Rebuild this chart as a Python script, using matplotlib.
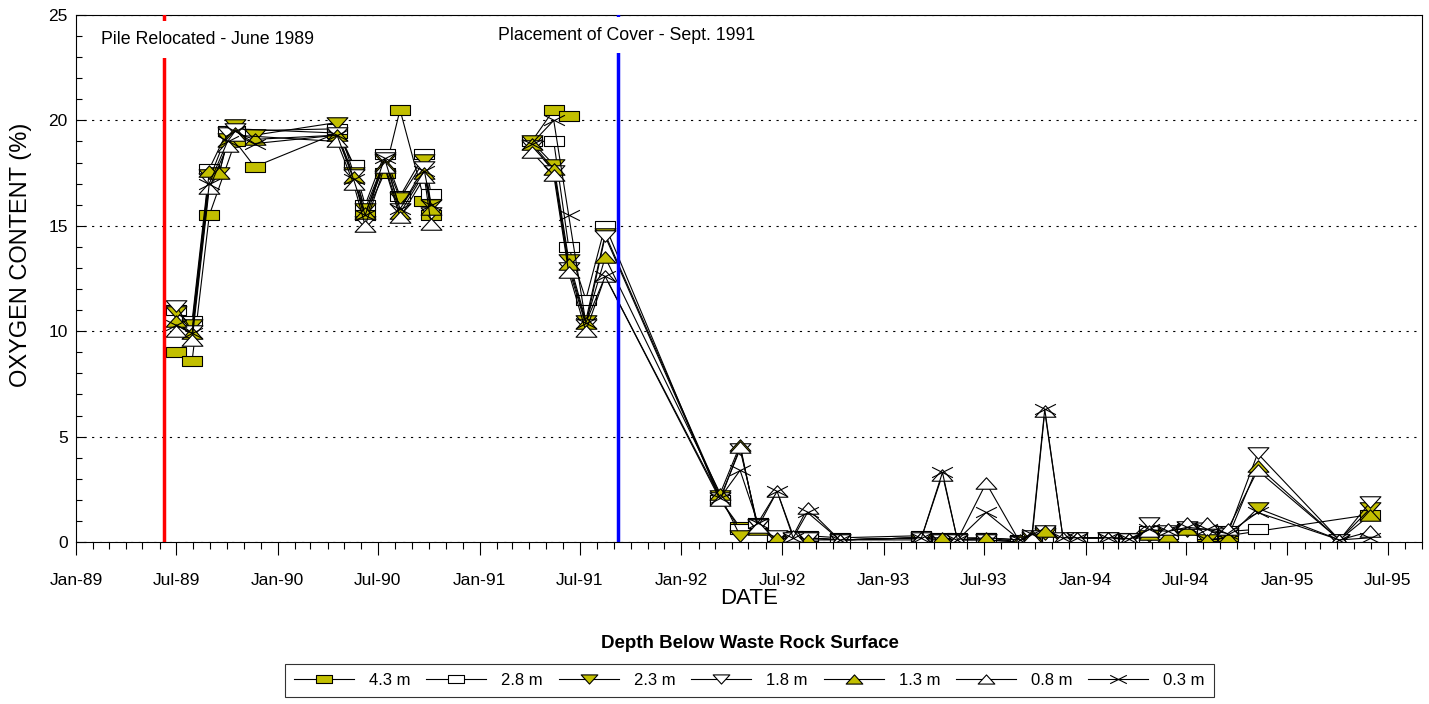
import numpy as np
import pandas as pd
import matplotlib
matplotlib.use("Agg")
import matplotlib.pyplot as plt
import matplotlib.dates as mdates
from matplotlib.path import Path
from matplotlib.lines import Line2D
from matplotlib.ticker import MultipleLocator

plt.rcParams['font.family'] = ['Liberation Sans', 'DejaVu Sans']

# sampling dates (one row per field campaign)
dates = pd.to_datetime([
    "1989-07-01", "1989-07-30", "1989-08-30", "1989-09-17", "1989-10-02",
    "1989-10-16", "1989-11-20", "1990-04-18", "1990-05-18", "1990-06-08",
    "1990-07-13", "1990-08-10", "1990-09-23", "1990-10-05",
    "1991-04-05", "1991-05-15", "1991-06-11", "1991-07-12", "1991-08-16",
    "1992-03-11", "1992-04-16", "1992-05-18", "1992-06-22", "1992-07-21",
    "1992-08-16", "1992-10-13", "1993-03-10", "1993-04-17", "1993-05-14",
    "1993-07-05", "1993-09-04", "1993-09-26", "1993-10-19", "1993-11-21",
    "1993-12-16", "1994-02-11", "1994-03-21", "1994-04-26", "1994-05-30",
    "1994-07-04", "1994-08-08", "1994-09-15", "1994-11-08", "1995-04-05",
    "1995-05-31",
])

nan = np.nan

# oxygen content (%) at each depth below the waste rock surface
o2_43 = [9.0, 8.6, 15.5, nan, nan, 19.0, 17.8, 19.4, 17.9, 15.5,
         17.5, 20.5, 16.2, 15.5,
         19.0, 20.5, 20.2, nan, nan,
         2.0, 0.7, 0.8, 0.3, 0.2, 0.2, 0.1, 0.2, 0.1, 0.1,
         0.2, 0.1, 0.3, 0.5, 0.2, 0.2, 0.2, 0.15, 0.4, 0.4,
         0.6, 0.3, 0.3, nan, nan, 1.3]
o2_28 = [11.0, 10.5, 17.7, nan, 19.5, 19.5, nan, 19.6, 17.9, 16.0,
         18.4, 16.4, 18.4, 16.5,
         19.0, 19.0, 14.0, 11.5, 15.0,
         2.0, 0.6, 0.9, 0.3, 0.3, 0.3, 0.2, 0.3, 0.2, 0.2,
         0.2, 0.0, 0.3, 0.5, 0.2, 0.2, 0.2, 0.2, 0.5, 0.4,
         0.6, 0.4, 0.5, 0.6, nan, nan]
o2_23 = [10.9, 10.3, 17.4, 17.5, 19.1, 19.8, 19.3, 19.9, 17.5, 15.8,
         18.1, 16.3, 18.1, 16.0,
         19.0, 17.9, 13.4, 10.5, 14.6,
         2.2, 0.3, 0.8, 0.2, 0.1, 0.2, 0.1, 0.1, 0.1, 0.1,
         0.1, 0.0, 0.2, 0.4, 0.1, 0.2, 0.2, 0.1, 0.3, 0.4,
         0.5, 0.1, 0.2, 1.6, 0.1, 1.6]
o2_18 = [11.2, 10.0, 17.2, nan, 19.4, 19.6, nan, 19.4, 17.4, 15.2,
         18.2, 15.8, 17.8, 15.6,
         18.8, 17.6, 13.0, 10.3, 14.5,
         2.1, 4.4, 0.8, 0.3, 0.2, 0.2, 0.1, 0.2, 0.1, 0.1,
         0.1, 0.0, 0.3, 0.5, 0.2, 0.2, 0.2, 0.15, 0.9, 0.5,
         0.7, 0.5, 0.4, 4.2, 0.1, 1.9]
o2_13 = [10.5, 9.9, 17.6, 17.5, 19.0, 19.4, 19.1, 19.3, 17.3, 15.6,
         17.9, 15.6, 17.5, 15.8,
         18.9, 17.7, 13.2, 10.4, 13.5,
         2.3, 4.6, 0.6, 0.2, 0.1, 0.1, 0.1, 0.2, 0.2, 0.1,
         0.2, 0.1, 0.3, 0.5, 0.1, 0.2, 0.2, 0.15, 0.4, 0.3,
         0.6, 0.1, 0.2, 3.6, 0.1, 1.3]
o2_08 = [10.0, 9.6, 16.8, nan, 18.8, 19.3, nan, 19.0, 17.0, 15.0,
         17.8, 15.4, 17.3, 15.1,
         18.5, 17.4, 12.8, 10.0, 12.6,
         2.0, 4.5, 0.7, 2.4, 0.3, 1.6, 0.1, 0.2, 3.2, 0.1,
         2.8, 0.0, 0.2, 6.2, 0.2, 0.2, 0.2, 0.15, 0.5, 0.6,
         0.9, 0.9, 0.6, 3.4, 0.1, 0.5]
o2_03 = [10.3, 9.9, 17.0, nan, 19.0, 19.5, 18.9, 19.3, 17.2, 15.5,
         18.2, 15.8, 17.6, 16.0,
         18.9, 20.0, 15.5, 10.4, 12.6,
         2.1, 3.4, 0.9, 2.4, 0.2, 1.4, 0.1, 0.2, 3.3, 0.1,
         1.4, 0.1, 0.4, 6.3, 0.2, 0.2, 0.2, 0.15, 0.6, 0.5,
         0.7, 0.6, 0.4, 1.4, 0.1, 0.2]

depth_labels = ["4.3 m", "2.8 m", "2.3 m", "1.8 m", "1.3 m", "0.8 m", "0.3 m"]
depth_values = [o2_43, o2_28, o2_23, o2_18, o2_13, o2_08, o2_03]

events = [("1989-06-09", "Pile Relocated - June 1989", "red"),
          ("1991-09-09", "Placement of Cover - Sept. 1991", "blue")]

# no sampling over the 1990-91 winter; 4.3 m probe lost after mid-1991
season_break = ["1991-01-01"]
extra_breaks = {"4.3 m": ["1991-07-01"]}

YELLOW = "#c2bf00"

# flattened marker shapes
M, L, C = Path.MOVETO, Path.LINETO, Path.CLOSEPOLY
box = Path([(-1, -.5), (1, -.5), (1, .5), (-1, .5), (-1, -.5)], [M, L, L, L, C])
tri_up = Path([(-1, -.55), (1, -.55), (0, .55), (-1, -.55)], [M, L, L, C])
tri_dn = Path([(-1, .55), (1, .55), (0, -.55), (-1, .55)], [M, L, L, C])
cross = Path([(-1, -.5), (1, .5), (-1, .5), (1, -.5)], [M, L, M, L])

styles = [(box, YELLOW), (box, "white"), (tri_dn, YELLOW), (tri_dn, "white"),
          (tri_up, YELLOW), (tri_up, "white"), (cross, "none")]

fig = plt.figure(figsize=(14.29, 7.04), dpi=100)
ax = fig.add_axes([0.0532, 0.2301, 0.9418, 0.7486])

start, stop = dates.min() - pd.Timedelta(days=1), dates.max() + pd.Timedelta(days=1)
handles = []
for label, vals, (mk, fc) in zip(depth_labels, depth_values, styles):
    vals = np.asarray(vals, dtype=float)
    cuts = sorted(pd.to_datetime(season_break + extra_breaks.get(label, [])))
    edges = [start] + list(cuts) + [stop]
    for lo, hi in zip(edges[:-1], edges[1:]):
        m = (dates >= lo) & (dates < hi) & ~np.isnan(vals)
        ax.plot(dates[m], vals[m], color="black", lw=0.8, marker=mk,
                ms=15, mfc=fc, mec="black", mew=0.8)
    handles.append(Line2D([], [], color="black", lw=0.8, marker=mk, ms=12,
                          mfc=fc, mec="black", mew=0.8))

for when, text, col in events:
    ax.axvline(pd.Timestamp(when), color=col, lw=2.5, zorder=5)

box_style = dict(facecolor="white", edgecolor="none", pad=7)
ax.text(pd.Timestamp("1989-02-15"), 23.85, events[0][1], fontsize=12.8,
        va="center", ha="left", zorder=6, bbox=box_style)
ax.text(pd.Timestamp("1991-09-24"), 24.05, events[1][1], fontsize=12.8,
        va="center", ha="center", zorder=6, bbox=box_style)

ax.set_xlim(pd.Timestamp("1989-01-01"), pd.Timestamp("1995-09-01"))
ax.set_ylim(0, 25)

ax.xaxis.set_major_locator(mdates.MonthLocator(bymonth=[1, 7]))
ax.xaxis.set_minor_locator(mdates.MonthLocator())
ax.xaxis.set_major_formatter(mdates.DateFormatter("%b-%y"))
ax.yaxis.set_major_locator(MultipleLocator(5))
ax.yaxis.set_minor_locator(MultipleLocator(1))

ax.tick_params(axis="x", which="major", direction="out", length=9, width=0.8,
               labelsize=12.5, pad=13)
ax.tick_params(axis="x", which="minor", direction="out", length=5, width=0.8)
ax.tick_params(axis="y", which="major", direction="in", length=7, width=0.8,
               labelsize=12.5, pad=6)
ax.tick_params(axis="y", which="minor", direction="in", length=4, width=0.8)

ax.yaxis.grid(True, which="major", color="black", lw=0.8, ls=(0, (2, 5)))
for s in ax.spines.values():
    s.set_linewidth(0.8)

ax.set_xlabel("DATE", fontsize=16, labelpad=0)
ax.set_ylabel("OXYGEN CONTENT (%)", fontsize=17)
ax.yaxis.set_label_coords(-0.033, 0.545)

fig.text(0.5245, 0.086, "Depth Below Waste Rock Surface", ha="center",
         va="center", fontsize=13.5, fontweight="bold")
leg = fig.legend(handles, depth_labels, loc="center", ncol=7,
                 bbox_to_anchor=(0.5245, 0.033), fontsize=12, frameon=True,
                 fancybox=False, edgecolor="black", handlelength=3.6,
                 handletextpad=0.9, columnspacing=0.95, borderpad=0.55)
leg.get_frame().set_linewidth(0.8)

fig.savefig("out.png", dpi=100)
